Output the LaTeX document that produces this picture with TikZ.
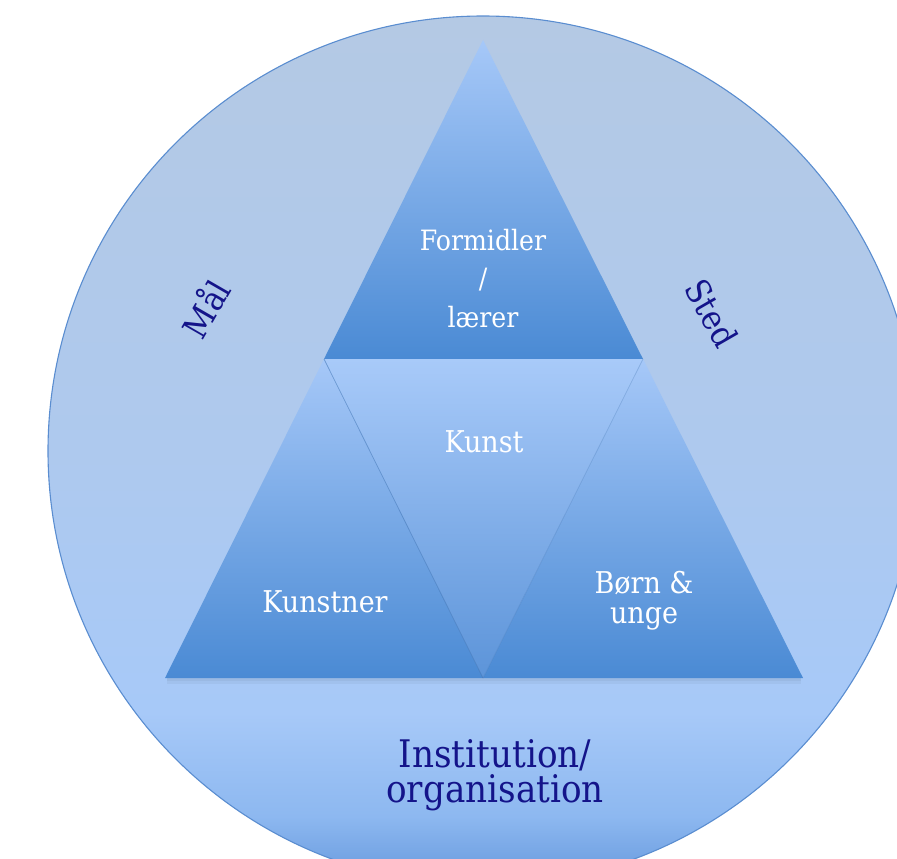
\documentclass[tikz,border=0pt]{standalone}
\usepackage{fontspec}
\setmainfont{DejaVu Serif Condensed}
\definecolor{navytext}{RGB}{20,20,138}
\definecolor{cbot}{HTML}{6497DC}
\definecolor{cmidA}{HTML}{8DB8F0}
\definecolor{cmidB}{HTML}{A7C9F8}
\definecolor{cmidC}{HTML}{AEC9EE}
\definecolor{ctop}{HTML}{B4C9E4}
\definecolor{rimcol}{HTML}{5A8DD0}
\definecolor{tritop}{HTML}{A6C8F8}
\definecolor{tribot}{HTML}{4A8AD4}
\definecolor{midtop}{HTML}{A8CAF9}
\definecolor{midbot}{HTML}{5C94D9}
\definecolor{edgecol}{HTML}{3C72B4}
\pgfdeclareverticalshading{circshade}{100bp}{color(0bp)=(cbot); color(25bp)=(cbot); color(29bp)=(cmidA); color(35bp)=(cmidB); color(50bp)=(cmidC); color(75bp)=(ctop); color(100bp)=(ctop)}
\tikzset{
  whitelabel/.style={text=white, inner sep=0pt, align=center},
  navylabel/.style={text=navytext, inner sep=0pt, align=center},
  tri/.style={top color=tritop, bottom color=tribot},
  midtri/.style={top color=midtop, bottom color=midbot},
  edgeline/.style={draw=edgecol, line width=0.7pt, opacity=0.55}
}
\begin{document}
\begin{tikzpicture}[x=1pt,y=-1pt]
\useasboundingbox (0,0) rectangle (897,859);
\clip (0,0) rectangle (897,859);
% big circle
\coordinate (O) at (483,451);
\shade[shading=circshade, draw=rimcol, line width=1.1pt] (O) circle[radius=435];
% triangle corners
\coordinate (A) at (483,40);
\coordinate (L) at (165,678);
\coordinate (R) at (803,678);
\coordinate (ML) at (324,359);
\coordinate (MR) at (643,359);
\coordinate (MB) at (483,678);
% soft shadow under base
\fill[black, opacity=0.04] (167,678) rectangle (801,684);
\fill[black, opacity=0.04] (167,678) rectangle (801,681);
% four triangles
\shade[tri] (A) -- (MR) -- (ML) -- cycle;
\shade[tri] (ML) -- (MB) -- (L) -- cycle;
\shade[tri] (MR) -- (R) -- (MB) -- cycle;
\shade[midtri] (ML) -- (MR) -- (MB) -- cycle;
\draw[edgeline] (ML) -- (MB);
\draw[edgeline, opacity=0.3] (MB) -- (MR);
% labels
\node[whitelabel, font=\fontsize{28}{38.5}\selectfont, anchor=base] (formidler) at (483,327) {Formidler\\/\\lærer};
\node[whitelabel, font=\fontsize{30}{36}\selectfont, anchor=base] (kunst) at (484,452) {Kunst};
\node[whitelabel, font=\fontsize{30}{36}\selectfont, anchor=base] (kunstner) at (325,612) {Kunstner};
\node[whitelabel, font=\fontsize{30}{30}\selectfont, anchor=base] (born) at (644,623) {Børn \&\\unge};
\node[navylabel, font=\fontsize{34}{40}\selectfont, rotate=60] (maal) at (205,308) {Mål};
\node[navylabel, font=\fontsize{34}{40}\selectfont, rotate=-60] (sted) at (712,313) {Sted};
\node[navylabel, font=\fontsize{38}{35}\selectfont, anchor=base] (inst) at (495,802) {Institution/\\organisation};
\end{tikzpicture}
\end{document}
